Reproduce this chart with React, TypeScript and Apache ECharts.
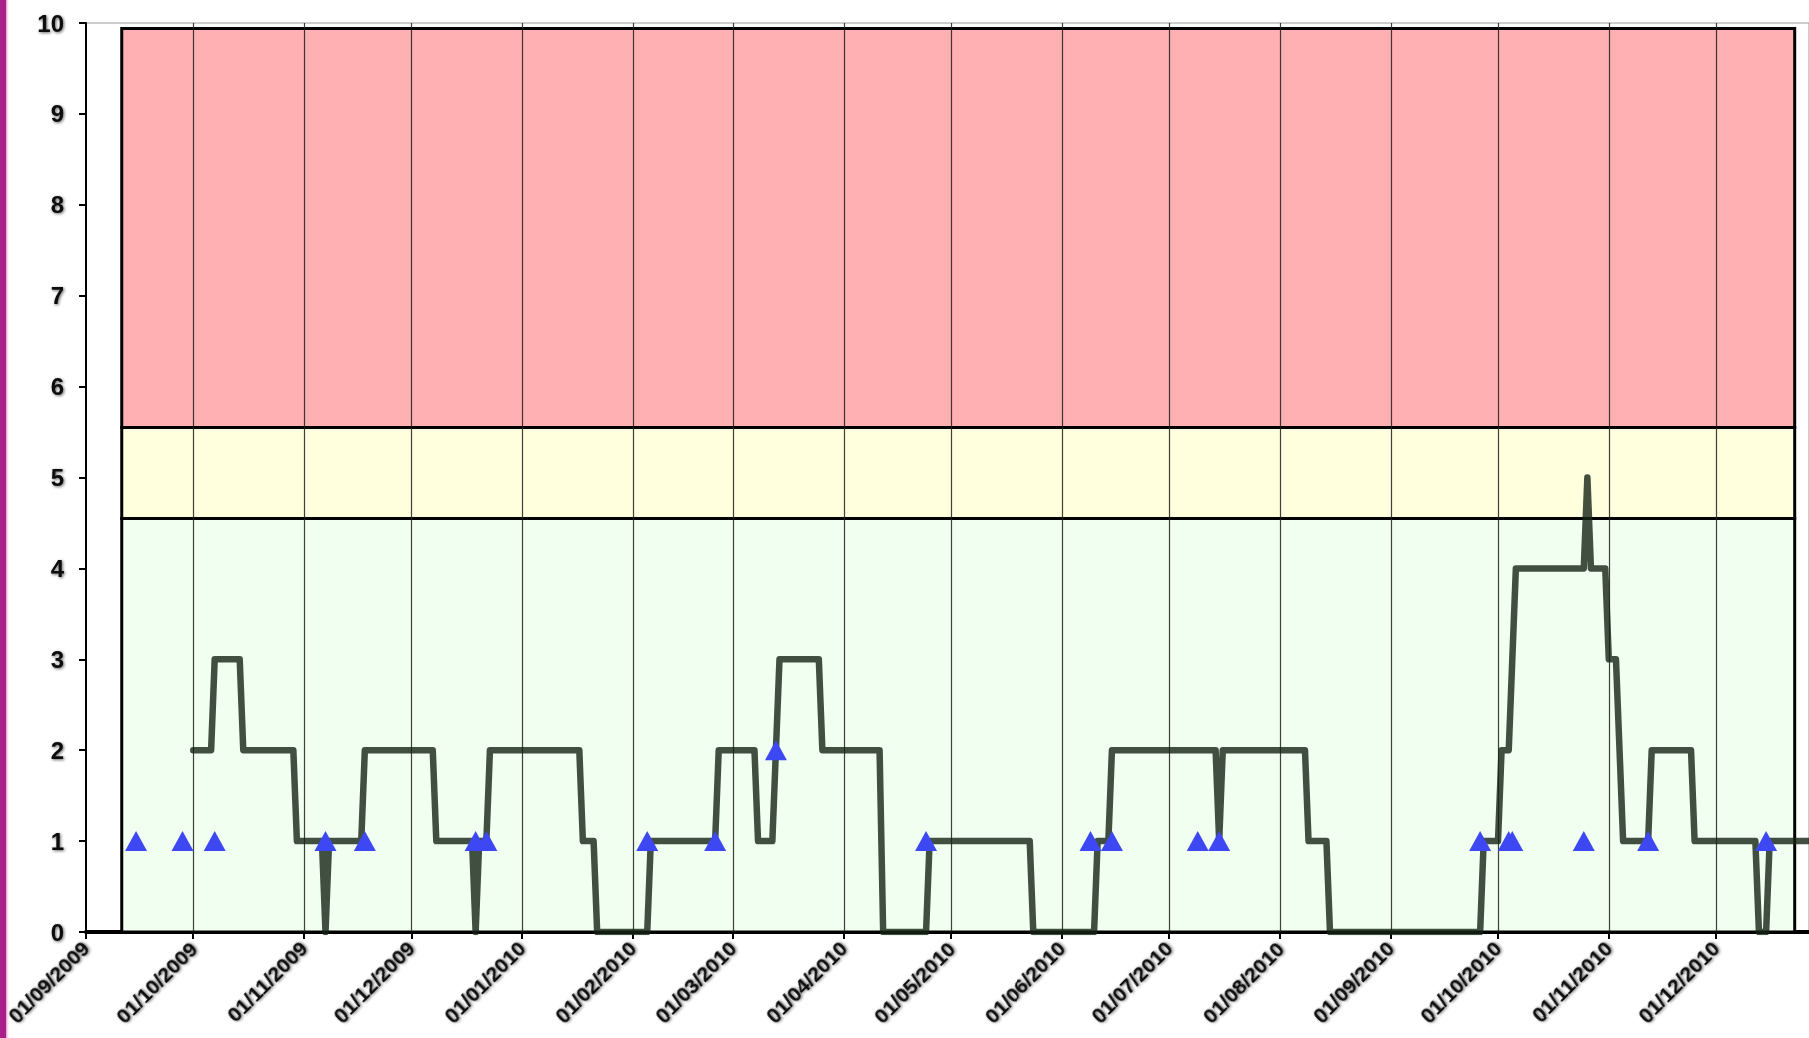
import React, { useEffect, useRef } from "react";
import * as echarts from "echarts";

// ---------- data ----------
const AXIS_START = "2009-09-01";
const AXIS_END = "2010-12-27";

const monthTicks = [
  "01/09/2009", "01/10/2009", "01/11/2009", "01/12/2009",
  "01/01/2010", "01/02/2010", "01/03/2010", "01/04/2010",
  "01/05/2010", "01/06/2010", "01/07/2010", "01/08/2010",
  "01/09/2010", "01/10/2010", "01/11/2010", "01/12/2010",
];

const lineDates = [
  "2009-10-01", "2009-10-06", "2009-10-07", "2009-10-14", "2009-10-15",
  "2009-10-29", "2009-10-30", "2009-11-06", "2009-11-07", "2009-11-08",
  "2009-11-17", "2009-11-18", "2009-12-07", "2009-12-08", "2009-12-18",
  "2009-12-19", "2009-12-20", "2009-12-22", "2009-12-23", "2010-01-17",
  "2010-01-18", "2010-01-21", "2010-01-22", "2010-02-05", "2010-02-06",
  "2010-02-24", "2010-02-25", "2010-03-07", "2010-03-08", "2010-03-12",
  "2010-03-13", "2010-03-14", "2010-03-25", "2010-03-26", "2010-04-11",
  "2010-04-12", "2010-04-24", "2010-04-25", "2010-05-23", "2010-05-24",
  "2010-06-10", "2010-06-11", "2010-06-14", "2010-06-15", "2010-07-14",
  "2010-07-15", "2010-07-16", "2010-08-08", "2010-08-09", "2010-08-14",
  "2010-08-15", "2010-09-26", "2010-09-27", "2010-10-01", "2010-10-02",
  "2010-10-04", "2010-10-05", "2010-10-06", "2010-10-25", "2010-10-26",
  "2010-10-27", "2010-10-31", "2010-11-01", "2010-11-03", "2010-11-04",
  "2010-11-05", "2010-11-12", "2010-11-13", "2010-11-24", "2010-11-25",
  "2010-12-12", "2010-12-13", "2010-12-15", "2010-12-16", "2011-01-04",
];
const lineValues = [
  2, 2, 3, 3, 2,
  2, 1, 1, 0, 1,
  1, 2, 2, 1, 1,
  0, 1, 1, 2, 2,
  1, 1, 0, 0, 1,
  1, 2, 2, 1, 1,
  2, 3, 3, 2, 2,
  0, 0, 1, 1, 0,
  0, 1, 1, 2, 2,
  1, 2, 2, 1, 1,
  0, 0, 1, 1, 2,
  2, 3, 4, 4, 5,
  4, 4, 3, 3, 2,
  1, 1, 2, 2, 1,
  1, 0, 0, 1, 1,
];

const markerDates = [
  "2009-09-15", "2009-09-28", "2009-10-07", "2009-11-07", "2009-11-18",
  "2009-12-19", "2009-12-22", "2010-02-05", "2010-02-24", "2010-03-13",
  "2010-04-24", "2010-06-09", "2010-06-15", "2010-07-09", "2010-07-15",
  "2010-09-26", "2010-10-04", "2010-10-05", "2010-10-25", "2010-11-12",
  "2010-12-15",
];
const markerValues = [
  1, 1, 1, 1, 1,
  1, 1, 1, 1, 2,
  1, 1, 1, 1, 1,
  1, 1, 1, 1, 1,
  1,
];

const bandStart = "2009-09-11";
const bandEnd = "2010-12-23";
const bandLows = [0, 4.55, 5.55];
const bandHighs = [4.55, 5.55, 9.94];
const bandColors = ["#f0fff0", "#ffffdd", "#ffb0b3"];

// ---------- helpers ----------
const BASE = Date.UTC(2009, 8, 1);
function isoDay(iso: string): number {
  const [y, m, d] = iso.split("-").map(Number);
  return (Date.UTC(y, m - 1, d) - BASE) / 86400000;
}
function labelDay(lbl: string): number {
  const [d, m, y] = lbl.split("/").map(Number);
  return (Date.UTC(y, m - 1, d) - BASE) / 86400000;
}

export default function App() {
  const ref = useRef<HTMLDivElement>(null);

  useEffect(() => {
    if (!ref.current) return;
    const chart = echarts.init(ref.current, null, { renderer: "svg" });

    const tickDays = monthTicks.map(labelDay);
    const labelMap: Record<number, string> = {};
    monthTicks.forEach((l, i) => (labelMap[tickDays[i]] = l));

    const lineData = lineDates.map((d, i) => [isoDay(d), lineValues[i]]);
    const markerData = markerDates.map((d, i) => [isoDay(d), markerValues[i]]);

    const bs = isoDay(bandStart);
    const be = isoDay(bandEnd);
    const areas = bandLows.map((lo, i) => [
      {
        xAxis: bs,
        yAxis: lo,
        itemStyle: { color: bandColors[i], borderColor: "#000", borderWidth: 3 },
      },
      { xAxis: be, yAxis: bandHighs[i] },
    ]);

    const textShadow = {
      textShadowColor: "rgba(0,0,0,0.6)",
      textShadowBlur: 3,
      textShadowOffsetX: 1,
      textShadowOffsetY: 1,
    };

    chart.setOption({
      animation: false,
      backgroundColor: "#ffffff",
      graphic: [
        {
          type: "rect",
          left: 0,
          top: 0,
          shape: { width: 6, height: 1038 },
          style: { fill: "#a81f88" },
          z: 100,
        },
        {
          type: "rect",
          left: 6,
          top: 0,
          shape: { width: 4, height: 1038 },
          style: {
            fill: new echarts.graphic.LinearGradient(0, 0, 1, 0, [
              { offset: 0, color: "rgba(200,80,170,0.6)" },
              { offset: 1, color: "rgba(255,255,255,0)" },
            ]),
          },
          z: 100,
        },
      ],
      grid: {
        left: 86,
        right: 0,
        top: 23,
        bottom: 106,
        show: true,
        borderColor: "#999999",
        borderWidth: 1,
        backgroundColor: "transparent",
      },
      xAxis: {
        type: "value",
        min: 0,
        max: isoDay(AXIS_END),
        splitLine: { show: false },
        axisLine: { show: true, lineStyle: { color: "#000", width: 4 } },
        axisTick: {
          show: true,
          customValues: tickDays,
          length: 7,
          lineStyle: { color: "#000", width: 2 },
        },
        axisLabel: {
          customValues: tickDays,
          rotate: 45,
          margin: 13,
          fontFamily: "Liberation Sans, Arial, sans-serif",
          fontWeight: "bold",
          fontSize: 21,
          color: "#0a0a0a",
          ...textShadow,
          formatter: (v: number) => labelMap[Math.round(v)] ?? "",
        },
      },
      yAxis: {
        type: "value",
        min: 0,
        max: 10,
        interval: 1,
        splitLine: { show: false },
        axisLine: { show: true, lineStyle: { color: "#000", width: 2 } },
        axisTick: { show: true, length: 7, lineStyle: { color: "#000", width: 2 } },
        axisLabel: {
          margin: 22,
          fontFamily: "Liberation Sans, Arial, sans-serif",
          fontWeight: "bold",
          fontSize: 24,
          color: "#0a0a0a",
          ...textShadow,
        },
      },
      series: [
        {
          name: "Level",
          type: "line",
          z: 3,
          data: lineData,
          showSymbol: false,
          symbol: "none",
          clip: true,
          lineStyle: {
            color: "rgba(20,35,20,0.8)",
            width: 6.5,
            cap: "round",
            join: "round",
          },
          markArea: {
            silent: true,
            z: 1,
            data: areas,
          },
          markLine: {
            silent: true,
            z: 2,
            symbol: "none",
            label: { show: false },
            lineStyle: { color: "rgba(30,30,30,0.85)", width: 1.2, type: "solid" },
            data: tickDays.filter((d) => d > 0).map((d) => ({ xAxis: d })),
          },
        },
        {
          name: "Events",
          type: "scatter",
          z: 4,
          data: markerData,
          symbol: "triangle",
          symbolSize: [22, 20],
          itemStyle: { color: "#3d48f2", opacity: 1 },
        },
      ],
    });

    return () => chart.dispose();
  }, []);

  return (
    <div
      ref={ref}
      style={{ position: "fixed", left: 0, top: 0, width: 1809, height: 1038 }}
    />
  );
}
